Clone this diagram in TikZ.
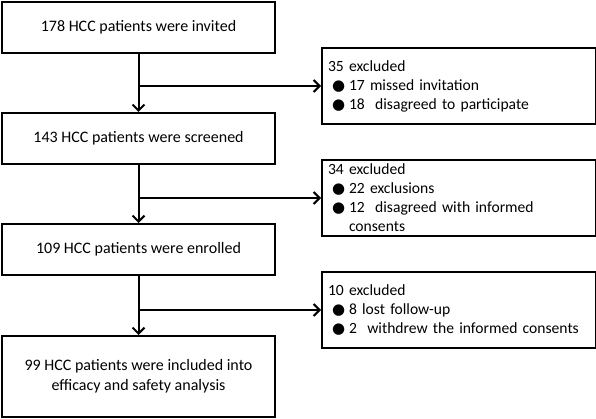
\documentclass[tikz,border=0pt]{standalone}
\usepackage{fontspec}
\setmainfont{Carlito}
\newfontfamily\dotfont{DejaVu Sans}
\usetikzlibrary{arrows.meta}
\newcommand{\bdot}{{\dotfont\fontsize{15}{15}\selectfont ●}}
\newcommand{\bline}[1]{\par\noindent\hangindent=21pt\hangafter=1\makebox[21pt][l]{\hspace{4pt}\bdot}#1\par}

\begin{document}
\begin{tikzpicture}[x=1pt,y=-1pt,
    font=\fontsize{16}{20}\selectfont, line width=2pt,
    stepbox/.style={draw, minimum width=273pt, minimum height=51pt, inner sep=0pt, align=center},
    exclbox/.style={draw, anchor=north west, minimum width=274pt, minimum height=76pt,
      text width=262pt, inner xsep=6pt, inner ysep=0pt, align=left,
      font=\fontsize{15.6}{19}\selectfont},
    flow/.style={-{Straight Barb[length=6pt,width=12pt]}}]
  \useasboundingbox (0,0) rectangle (596,419);

  % main column
  \node[stepbox] (invited) at (138.5,27.5) {178 HCC patients were invited};
  \node[stepbox] (screened) at (138.5,138.5) {143 HCC patients were screened};
  \node[stepbox] (enrolled) at (138.5,249.5) {109 HCC patients were enrolled};
  \node[stepbox, minimum height=81pt] (included) at (138.5,376.5)
    {99 HCC patients were included into\\efficacy and safety analysis};

  % exclusions
  \node[exclbox] (excl1) at (321,47) {35 excluded
    \bline{17 missed invitation}
    \bline{18\ \ disagreed to participate}};
  \node[exclbox] (excl2) at (321,159) {34 excluded
    \bline{22 exclusions}
    \bline{12\ \ disagreed with informed\newline consents}};
  \node[exclbox] (excl3) at (321,271) {10 excluded
    \bline{8 lost follow-up}
    \bline{2\ \ withdrew the informed consents}};

  \draw[flow] (invited) -- (screened);
  \draw[flow] (screened) -- (enrolled);
  \draw[flow] (enrolled) -- (included);
  \draw[flow] (invited.south |- excl1.west) -- (excl1.west);
  \draw[flow] (screened.south |- excl2.west) -- (excl2.west);
  \draw[flow] (enrolled.south |- excl3.west) -- (excl3.west);
\end{tikzpicture}
\end{document}
